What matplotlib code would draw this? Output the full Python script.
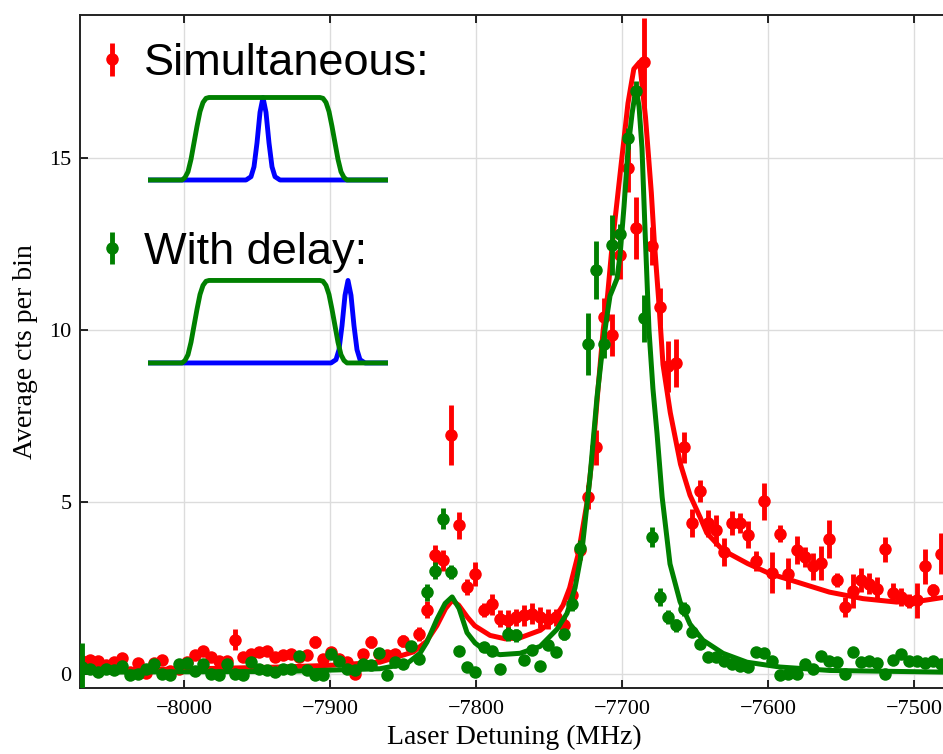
import matplotlib
matplotlib.use("Agg")
import matplotlib.pyplot as plt
from matplotlib.font_manager import FontProperties
from matplotlib.legend_handler import HandlerErrorbar

# laser detuning of each bin (MHz)
detuning = [-8070.0, -8064.5, -8059.0, -8053.5, -8048.0, -8042.5, -8037.0, -8031.5, -8026.0, -8020.5,
            -8015.0, -8009.5, -8004.0, -7998.5, -7993.0, -7987.5, -7982.0, -7976.5, -7971.0, -7965.5,
            -7960.0, -7954.5, -7949.0, -7943.5, -7938.0, -7932.5, -7927.0, -7921.5, -7916.0, -7910.5,
            -7905.0, -7899.5, -7894.0, -7888.5, -7883.0, -7877.5, -7872.0, -7866.5, -7861.0, -7855.5,
            -7850.0, -7844.5, -7839.0, -7833.5, -7828.0, -7822.5, -7817.0, -7811.5, -7806.0, -7800.5,
            -7795.0, -7789.5, -7784.0, -7778.5, -7773.0, -7767.5, -7762.0, -7756.5, -7751.0, -7745.5,
            -7740.0, -7734.5, -7729.0, -7723.5, -7718.0, -7712.5, -7707.0, -7701.5, -7696.0, -7690.5,
            -7685.0, -7679.5, -7674.0, -7668.5, -7663.0, -7657.5, -7652.0, -7646.5, -7641.0, -7635.5,
            -7630.0, -7624.5, -7619.0, -7613.5, -7608.0, -7602.5, -7597.0, -7591.5, -7586.0, -7580.5,
            -7575.0, -7569.5, -7564.0, -7558.5, -7553.0, -7547.5, -7542.0, -7536.5, -7531.0, -7525.5,
            -7520.0, -7514.5, -7509.0, -7503.5, -7498.0, -7492.5, -7487.0, -7481.5]

# simultaneous pulses (red)
sim_counts = [0.39, 0.41, 0.39, 0.25, 0.34, 0.47, 0.05, 0.31, 0.02, 0.31,
              0.41, 0.08, 0.15, 0.34, 0.54, 0.68, 0.49, 0.39, 0.37, 1.00,
              0.49, 0.59, 0.64, 0.68, 0.49, 0.54, 0.57, 0.49, 0.54, 0.93,
              0.44, 0.64, 0.44, 0.34, 0.00, 0.59, 0.93, 0.59, 0.54, 0.59,
              0.95, 0.78, 1.17, 1.87, 3.45, 3.30, 6.95, 4.32, 2.53, 2.92,
              1.87, 2.02, 1.61, 1.56, 1.65, 1.70, 1.75, 1.65, 1.60, 1.65,
              1.41, 2.30, 3.60, 5.15, 6.59, 10.39, 9.86, 12.19, 14.72, 12.97,
              17.79, 12.45, 10.68, 8.95, 9.05, 6.60, 4.38, 5.32, 4.38, 4.18,
              3.55, 4.39, 4.39, 4.05, 3.29, 5.02, 2.94, 4.08, 2.92, 3.60,
              3.40, 3.13, 3.23, 3.93, 2.74, 1.95, 2.41, 2.72, 2.63, 2.48,
              3.62, 2.35, 2.24, 2.12, 2.14, 3.13, 2.43, 3.50]
sim_err = [0.12, 0.12, 0.12, 0.12, 0.12, 0.12, 0.10, 0.12, 0.10, 0.12,
           0.12, 0.10, 0.10, 0.12, 0.12, 0.14, 0.12, 0.12, 0.12, 0.30,
           0.12, 0.14, 0.14, 0.14, 0.12, 0.14, 0.14, 0.12, 0.14, 0.18,
           0.12, 0.14, 0.12, 0.12, 0.10, 0.14, 0.18, 0.14, 0.14, 0.14,
           0.18, 0.16, 0.20, 0.25, 0.30, 0.30, 0.87, 0.40, 0.22, 0.35,
           0.20, 0.30, 0.25, 0.30, 0.25, 0.30, 0.30, 0.30, 0.30, 0.25,
           0.25, 0.30, 0.30, 0.35, 0.50, 0.55, 0.60, 0.70, 0.70, 0.90,
           1.30, 0.55, 0.55, 0.75, 0.70, 0.45, 0.41, 0.32, 0.40, 0.45,
           0.40, 0.35, 0.30, 0.40, 0.30, 0.53, 0.60, 0.25, 0.45, 0.40,
           0.30, 0.40, 0.50, 0.55, 0.20, 0.30, 0.50, 0.35, 0.30, 0.35,
           0.35, 0.30, 0.25, 0.20, 0.50, 0.50, 0.20, 0.60]

# pulses with delay (green)
delay_counts = [0.20, 0.15, 0.05, 0.15, 0.10, 0.22, -0.04, -0.01, 0.15, 0.30,
                -0.01, -0.04, 0.30, 0.31, 0.08, 0.28, 0.00, -0.04, 0.30, 0.00,
                -0.04, 0.34, 0.15, 0.10, 0.05, 0.15, 0.15, 0.51, 0.10, -0.04,
                -0.04, 0.57, 0.39, 0.15, 0.10, 0.30, 0.25, 0.61, -0.04, 0.34,
                0.30, 0.82, 0.44, 2.37, 3.00, 4.52, 2.97, 0.68, 0.20, 0.05,
                0.78, 0.68, 0.15, 1.17, 1.12, 0.41, 0.70, 0.22, 0.83, 0.64,
                1.15, 2.04, 3.65, 9.60, 11.75, 9.60, 12.48, 12.80, 15.58, 16.96,
                10.35, 3.98, 2.24, 1.65, 1.41, 1.88, 1.22, 0.86, 0.49, 0.49,
                0.39, 0.28, 0.22, 0.20, 0.64, 0.60, 0.39, -0.04, 0.00, 0.00,
                0.28, 0.15, 0.51, 0.39, 0.34, 0.00, 0.64, 0.34, 0.37, 0.31,
                0.00, 0.40, 0.59, 0.39, 0.39, 0.31, 0.37, 0.28]
delay_err = [0.70, 0.10, 0.10, 0.10, 0.10, 0.10, 0.10, 0.10, 0.10, 0.10,
             0.10, 0.10, 0.10, 0.10, 0.10, 0.10, 0.10, 0.10, 0.10, 0.10,
             0.10, 0.10, 0.10, 0.10, 0.10, 0.10, 0.10, 0.12, 0.10, 0.10,
             0.10, 0.12, 0.10, 0.10, 0.10, 0.10, 0.10, 0.12, 0.10, 0.10,
             0.10, 0.15, 0.12, 0.25, 0.25, 0.30, 0.20, 0.12, 0.10, 0.10,
             0.12, 0.12, 0.10, 0.20, 0.20, 0.10, 0.12, 0.10, 0.12, 0.12,
             0.15, 0.20, 0.25, 0.90, 0.85, 0.40, 0.87, 0.30, 0.30, 0.30,
             0.68, 0.30, 0.25, 0.20, 0.20, 0.20, 0.15, 0.12, 0.10, 0.10,
             0.10, 0.10, 0.10, 0.10, 0.12, 0.12, 0.10, 0.10, 0.10, 0.10,
             0.10, 0.10, 0.12, 0.10, 0.10, 0.10, 0.12, 0.10, 0.10, 0.10,
             0.10, 0.10, 0.12, 0.10, 0.10, 0.10, 0.10, 0.10]

# fitted line shapes
sim_fit_x = [-8071, -8003, -7934, -7900, -7866, -7843, -7834, -7827, -7821, -7816.5,
             -7812, -7806, -7801, -7790.5, -7780, -7770, -7756, -7749, -7745, -7740.5,
             -7736, -7730, -7724, -7720, -7716.5, -7713, -7710, -7707, -7701, -7696,
             -7692, -7688, -7684, -7680, -7678, -7675, -7672, -7667, -7660, -7653.5,
             -7646.5, -7642, -7631, -7614, -7599, -7580, -7558, -7535, -7512, -7496, -7476]
sim_fit_y = [0.10, 0.14, 0.20, 0.25, 0.34, 0.64, 0.95, 1.40, 1.90, 2.14,
             2.00, 1.65, 1.40, 1.12, 1.02, 1.05, 1.27, 1.50, 1.70, 2.00,
             2.50, 3.50, 5.00, 6.50, 8.30, 10.0, 11.0, 12.4, 14.7, 16.6,
             17.6, 17.8, 16.2, 14.0, 12.6, 10.9, 9.0, 7.6, 6.1, 5.2,
             4.55, 4.10, 3.60, 3.21, 2.92, 2.67, 2.38, 2.19, 2.09, 2.12, 2.25]

delay_fit_x = [-8071, -7934, -7866, -7847.4, -7838.5, -7833.7, -7826.8, -7821.3, -7816.5, -7811.7,
               -7806.3, -7800.8, -7794, -7783.7, -7769.9, -7756.2, -7744.6, -7737.8, -7732.3, -7727.5,
               -7722.0, -7717.2, -7713.1, -7710.3, -7708.3, -7703.5, -7701.4, -7698.7, -7695.9, -7693.2,
               -7690.5, -7688.4, -7686.4, -7684.3, -7681.6, -7678.9, -7676.1, -7672.6, -7667.2, -7660.3,
               -7653.5, -7644.6, -7630.9, -7614.4, -7591.8, -7557.6, -7476]
delay_fit_y = [0.05, 0.07, 0.15, 0.30, 0.60, 0.93, 1.60, 2.05, 2.24, 1.90,
               1.20, 0.90, 0.68, 0.56, 0.60, 0.80, 1.30, 1.76, 2.50, 3.60,
               5.73, 8.06, 9.60, 10.44, 11.0, 11.5, 12.2, 13.6, 15.3, 16.3,
               17.05, 16.5, 15.3, 12.9, 10.0, 8.3, 7.0, 5.15, 3.2, 2.1,
               1.45, 0.98, 0.60, 0.34, 0.20, 0.10, 0.05]

# pulse sketches: gate pulse (green) and probe pulse (blue)
gate_t = [0, 34, 37, 40, 43, 46, 49, 52, 55, 58, 61, 172, 175, 178, 181, 184, 187, 190, 193, 196, 199, 240]
gate_y = [0, 0, 0.03, 0.10, 0.25, 0.45, 0.65, 0.83, 0.94, 0.99, 1, 1, 0.99, 0.94, 0.83, 0.65, 0.45, 0.25, 0.10, 0.03, 0, 0]
probe_dt = [-300, -17, -12, -9, -6, -3, 0, 3, 6, 9, 12, 17, 300]
probe_y = [0, 0, 0.04, 0.16, 0.45, 0.82, 1, 0.82, 0.45, 0.16, 0.04, 0, 0]
probe_center_sim = 115
probe_center_delay = 200

RED = "#ff0000"
GREEN = "#008000"
BLUE = "#0000ff"
serif = "Liberation Serif"

fig = plt.figure(figsize=(9.43, 7.54), dpi=100)
ax = fig.add_axes([80 / 943, 1 - 688 / 754, 868 / 943, 673 / 754])

eb_sim = ax.errorbar(detuning, sim_counts, yerr=sim_err, fmt="o", color=RED, ms=9,
                     mew=0, elinewidth=3.5, capsize=0, zorder=3)
ax.plot(sim_fit_x, sim_fit_y, color=RED, lw=3.6, zorder=4)
eb_delay = ax.errorbar(detuning, delay_counts, yerr=delay_err, fmt="o", color=GREEN, ms=9,
                       mew=0, elinewidth=3.5, capsize=0, zorder=5)
ax.plot(delay_fit_x, delay_fit_y, color=GREEN, lw=3.6, zorder=6)

ax.set_xlim(-8071.5, -7476.7)
ax.set_ylim(-0.41, 19.17)
ax.set_xticks([-8000, -7900, -7800, -7700, -7600, -7500])
ax.set_yticks([0, 5, 10, 15])
ax.grid(color="#dcdcdc", lw=1)
ax.set_axisbelow(True)
ax.tick_params(direction="in", top=True, right=False, length=6, width=1.2, labelsize=16)
ax.tick_params(axis="x", pad=9)
ax.tick_params(axis="y", pad=6)
for lab in ax.get_xticklabels() + ax.get_yticklabels():
    lab.set_family(serif)
for sp in ax.spines.values():
    sp.set_linewidth(1.4)
    sp.set_color("#222222")

ax.set_xlabel("Laser Detuning (MHz)", family=serif, fontsize=20, labelpad=4)
ax.set_ylabel("Average cts per bin", family=serif, fontsize=20, labelpad=8)

leg = ax.legend([eb_sim, eb_delay], ["Simultaneous:", "With delay:"], loc="upper left",
                bbox_to_anchor=(0.006, 0.985), borderaxespad=0, frameon=False,
                prop=FontProperties(family="Liberation Sans", size=32.5),
                labelspacing=3.27, handlelength=0.4, handletextpad=0.5,
                handler_map={type(eb_sim): HandlerErrorbar(yerr_size=0.36)})

# pulse sketches
for bottom_px, center in [(188.25, probe_center_sim), (371.2, probe_center_delay)]:
    ins = fig.add_axes([148 / 943, 1 - bottom_px / 754, 240 / 943, 99 / 754])
    ins.plot([center + d for d in probe_dt], probe_y, color=BLUE, lw=3.5)
    ins.plot(gate_t, gate_y, color=GREEN, lw=3.5)
    ins.set_xlim(0, 240)
    ins.set_ylim(-0.1, 1.1)
    ins.axis("off")

fig.savefig("out.png", dpi=100)
